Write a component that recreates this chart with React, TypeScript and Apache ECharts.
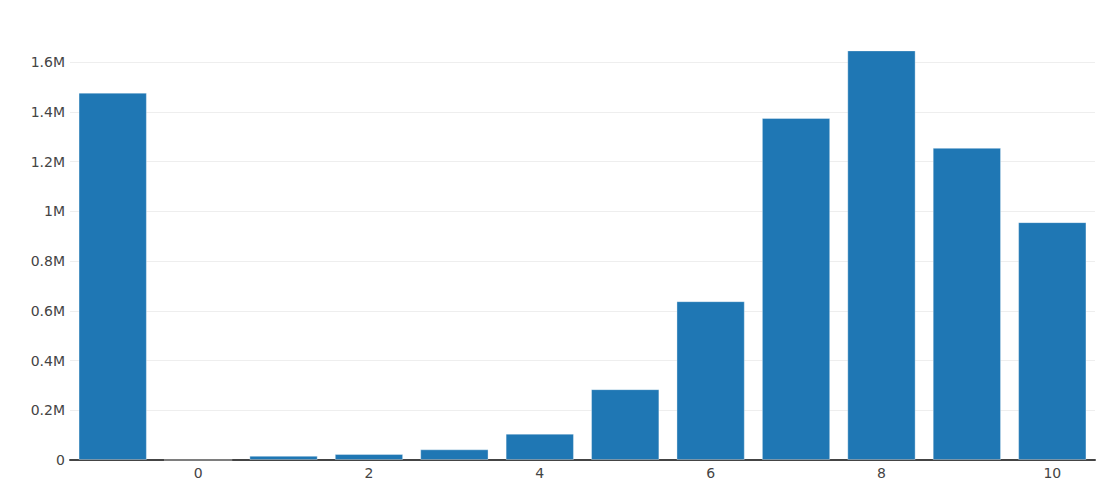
import React, { useEffect, useRef } from "react";
import * as echarts from "echarts";

const categories = ["-1", "0", "1", "2", "3", "4", "5", "6", "7", "8", "9", "10"];
const values = [1478000, 0, 17000, 24000, 43000, 106000, 285000, 639000, 1376000, 1648000, 1256000, 957000];
const yTickLabels: Record<number, string> = {
  0: "0",
  200000: "0.2M",
  400000: "0.4M",
  600000: "0.6M",
  800000: "0.8M",
  1000000: "1M",
  1200000: "1.2M",
  1400000: "1.4M",
  1600000: "1.6M",
};

const FONT = "DejaVu Sans";

export default function App() {
  const ref = useRef<HTMLDivElement>(null);
  useEffect(() => {
    if (!ref.current) return;
    const chart = echarts.init(ref.current, undefined, { renderer: "svg" });
    chart.setOption({
      animation: false,
      textStyle: { fontFamily: FONT, fontSize: 14, color: "#444" },
      grid: { left: 70, right: 25, top: 30, bottom: 36 },
      xAxis: {
        type: "category",
        data: categories,
        axisTick: { show: false },
        axisLine: { show: true, lineStyle: { color: "#444", width: 2 } },
        axisLabel: {
          interval: (_i: number, v: string) => Number(v) % 2 === 0,
          color: "#444",
          fontSize: 14,
          fontFamily: FONT,
          margin: 6,
        },
        splitLine: { show: false },
      },
      yAxis: {
        type: "value",
        min: 0,
        max: 1730000,
        interval: 200000,
        axisLine: { show: false },
        axisTick: { show: false },
        axisLabel: {
          color: "#444",
          fontSize: 14,
          fontFamily: FONT,
          margin: 5,
          showMaxLabel: false,
          formatter: (v: number) => yTickLabels[Math.round(v)] ?? "",
        },
        splitLine: { show: true, showMaxLine: false, lineStyle: { color: "#eee", width: 1 } },
      },
      series: [
        {
          type: "bar",
          data: values,
          barCategoryGap: "20%",
          itemStyle: {
            color: "#1f77b4",
            borderColor: "rgba(255,255,255,0.35)",
            borderWidth: 1,
          },
        },
      ],
    });
    return () => chart.dispose();
  }, []);
  return (
    <div
      ref={ref}
      style={{ position: "fixed", left: 0, top: 0, width: 1120, height: 496, background: "#fff" }}
    />
  );
}
